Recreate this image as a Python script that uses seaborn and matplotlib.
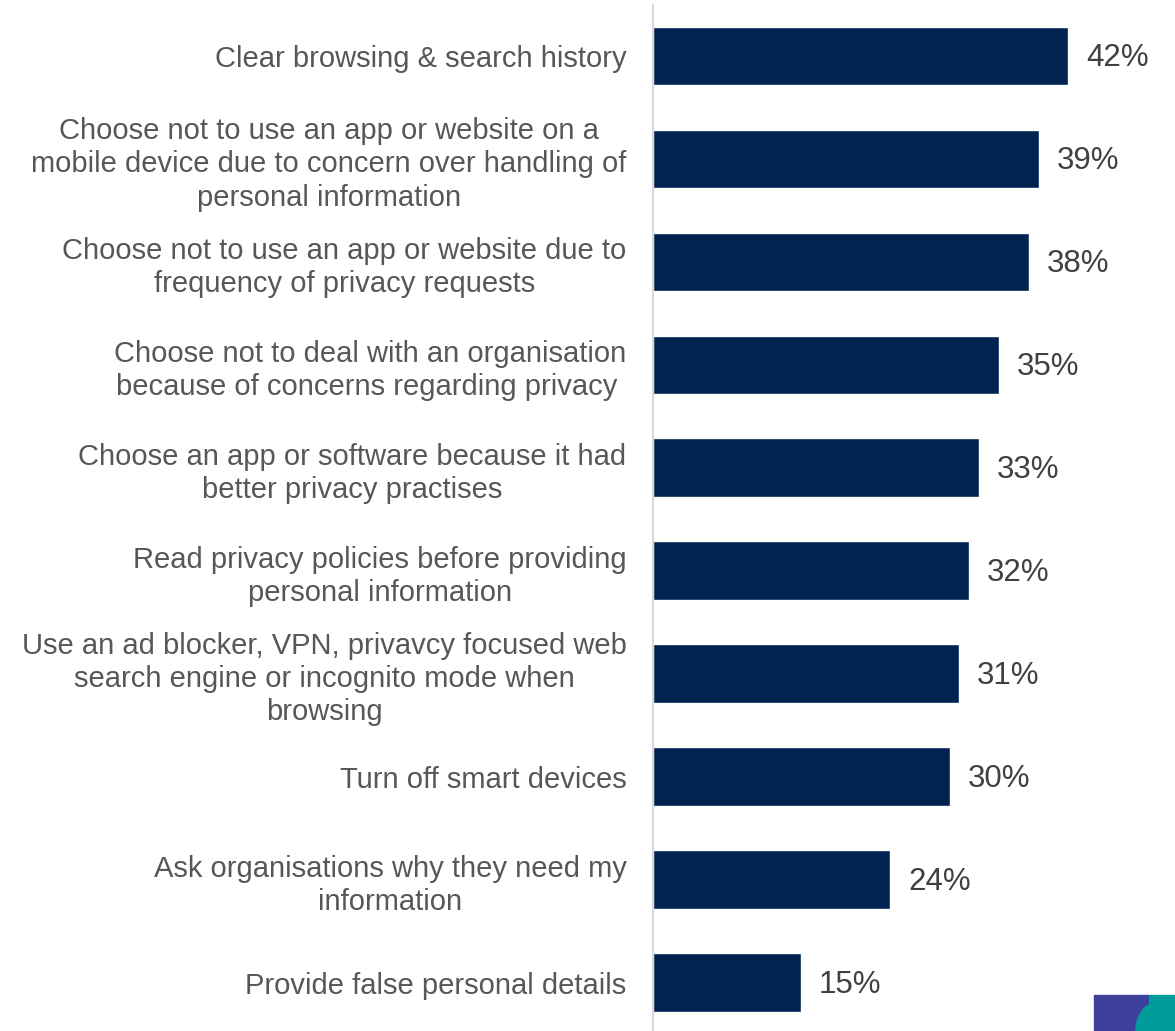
import matplotlib
matplotlib.use("Agg")
import matplotlib.pyplot as plt
import matplotlib.patches as mpatches
import seaborn as sns
import pandas as pd

actions = [
    "Clear browsing & search history",
    "Choose not to use an app or website on a\nmobile device due to concern over handling of\npersonal information",
    "Choose not to use an app or website due to\nfrequency of privacy requests",
    "Choose not to deal with an organisation\nbecause of concerns regarding privacy ",
    "Choose an app or software because it had\nbetter privacy practises",
    "Read privacy policies before providing\npersonal information",
    "Use an ad blocker, VPN, privavcy focused web\nsearch engine or incognito mode when\nbrowsing",
    "Turn off smart devices",
    "Ask organisations why they need my\ninformation",
    "Provide false personal details",
]
shares = [42, 39, 38, 35, 33, 32, 31, 30, 24, 15]

df = pd.DataFrame({"action": actions, "share": shares})

sns.set_theme(style="white")
plt.rcParams["font.family"] = ["Liberation Sans", "DejaVu Sans"]

W, H = 1175, 1031
fig = plt.figure(figsize=(W / 100, H / 100), dpi=100)
ax = fig.add_axes([653 / W, 0.0, 1 - 653 / W, (H - 5) / H])

bar_color = "#002352"
sns.barplot(data=df, x="share", y="action", orient="h", color=bar_color,
            width=0.57, saturation=1, ax=ax)

ax.set_xlim(0, 52.8)
ax.set_ylim(9.47, -0.495)
ax.set_xlabel("")
ax.set_ylabel("")
ax.set_xticks([])

for s in ["top", "right", "bottom"]:
    ax.spines[s].set_visible(False)
ax.spines["left"].set_color("#D9D9D9")
ax.spines["left"].set_linewidth(1.5)

ax.tick_params(axis="y", length=0, pad=19, labelsize=21, labelcolor="#575757")
for t in ax.get_yticklabels():
    t.set_multialignment("center")
    t.set_linespacing(1.23)

for i, v in enumerate(shares):
    ax.text(v + 1.8, i + 0.02, f"{v}%", va="center", ha="left",
            fontsize=22.5, color="#404040")

# Corner logo block
fig.patches.append(mpatches.Rectangle((1094 / W, 0), 55 / W, 36 / H,
                                      transform=fig.transFigure,
                                      color="#3F3F9C", zorder=5))
fig.patches.append(mpatches.Rectangle((1149 / W, 0), 26 / W, 36 / H,
                                      transform=fig.transFigure,
                                      color="#009C9C", zorder=5))
fig.patches.append(mpatches.Ellipse((1154 / W, 0), 36 / W, 54 / H,
                                    transform=fig.transFigure,
                                    color="#009C9C", zorder=6))

fig.savefig("out.png", dpi=100)
